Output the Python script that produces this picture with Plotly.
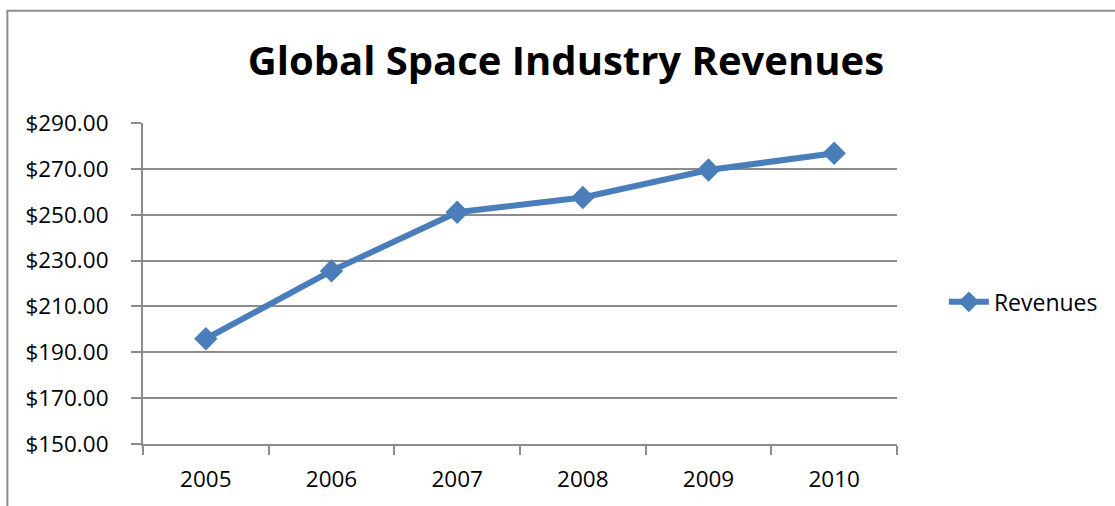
import plotly.graph_objects as go

# Annual global space industry revenues (billions of US dollars)
years = ["2005", "2006", "2007", "2008", "2009", "2010"]
revenues = [195.9, 225.5, 251.1, 257.5, 269.5, 276.8]

series_name = "Revenues"
chart_title = "Global Space Industry Revenues"

y_min, y_max, y_step = 150, 290, 20

FONT = "Open Sans"
LINE_BLUE = "#4A7EBB"
GRID = "#8C8C8C"

W, H = 1115, 506
plot_left, plot_right, plot_top, plot_bottom = 143, 899, 123, 446
pw = plot_right - plot_left
ph = plot_bottom - plot_top


def px_to_paper_x(px):
    return (px - plot_left) / pw


def px_to_paper_y(py):
    return (plot_bottom - py) / ph


fig = go.Figure()
fig.add_trace(
    go.Scatter(
        x=years,
        y=revenues,
        name=series_name,
        mode="lines+markers",
        line=dict(color=LINE_BLUE, width=6),
        marker=dict(symbol="diamond", size=18, color=LINE_BLUE),
    )
)

fig.update_layout(
    width=W,
    height=H,
    margin=dict(l=plot_left, r=W - plot_right, t=plot_top, b=H - plot_bottom),
    paper_bgcolor="white",
    plot_bgcolor="white",
    font=dict(family=FONT, color="black", size=22),
    title=dict(
        text=chart_title,
        font=dict(family=FONT, size=40, color="black", weight="bold"),
        x=px_to_paper_x(567),
        xref="paper",
        xanchor="center",
        y=1 - 61 / H,
        yref="container",
        yanchor="middle",
    ),
    showlegend=True,
    legend=dict(
        x=px_to_paper_x(946),
        y=px_to_paper_y(303),
        xanchor="left",
        yanchor="middle",
        font=dict(family=FONT, size=23, color="black"),
        bgcolor="rgba(0,0,0,0)",
        itemwidth=40,
    ),
    xaxis=dict(
        type="category",
        range=[-0.5, 5.5],
        showgrid=False,
        showline=True,
        linecolor=GRID,
        linewidth=2,
        ticks="outside",
        tickson="boundaries",
        ticklen=9,
        tickcolor=GRID,
        tickwidth=2,
        tickfont=dict(family=FONT, size=22.5, color="black"),
        ticklabelstandoff=14,
        zeroline=False,
    ),
    yaxis=dict(
        range=[y_min, y_max],
        dtick=y_step,
        tick0=y_min,
        tickformat="$,.2f",
        showgrid=True,
        gridcolor=GRID,
        gridwidth=2,
        showline=True,
        linecolor=GRID,
        linewidth=2,
        ticks="outside",
        ticklen=10,
        tickcolor=GRID,
        tickwidth=2,
        tickfont=dict(family=FONT, size=22.5, color="black"),
        ticklabelstandoff=18,
        zeroline=False,
    ),
    shapes=[
        dict(
            type="rect",
            xref="paper",
            yref="paper",
            x0=px_to_paper_x(7),
            x1=px_to_paper_x(1125),
            y0=px_to_paper_y(520),
            y1=px_to_paper_y(10),
            line=dict(color="#8C8C8C", width=2),
            fillcolor="rgba(0,0,0,0)",
            layer="below",
        )
    ],
)

fig.write_html("out.html")
